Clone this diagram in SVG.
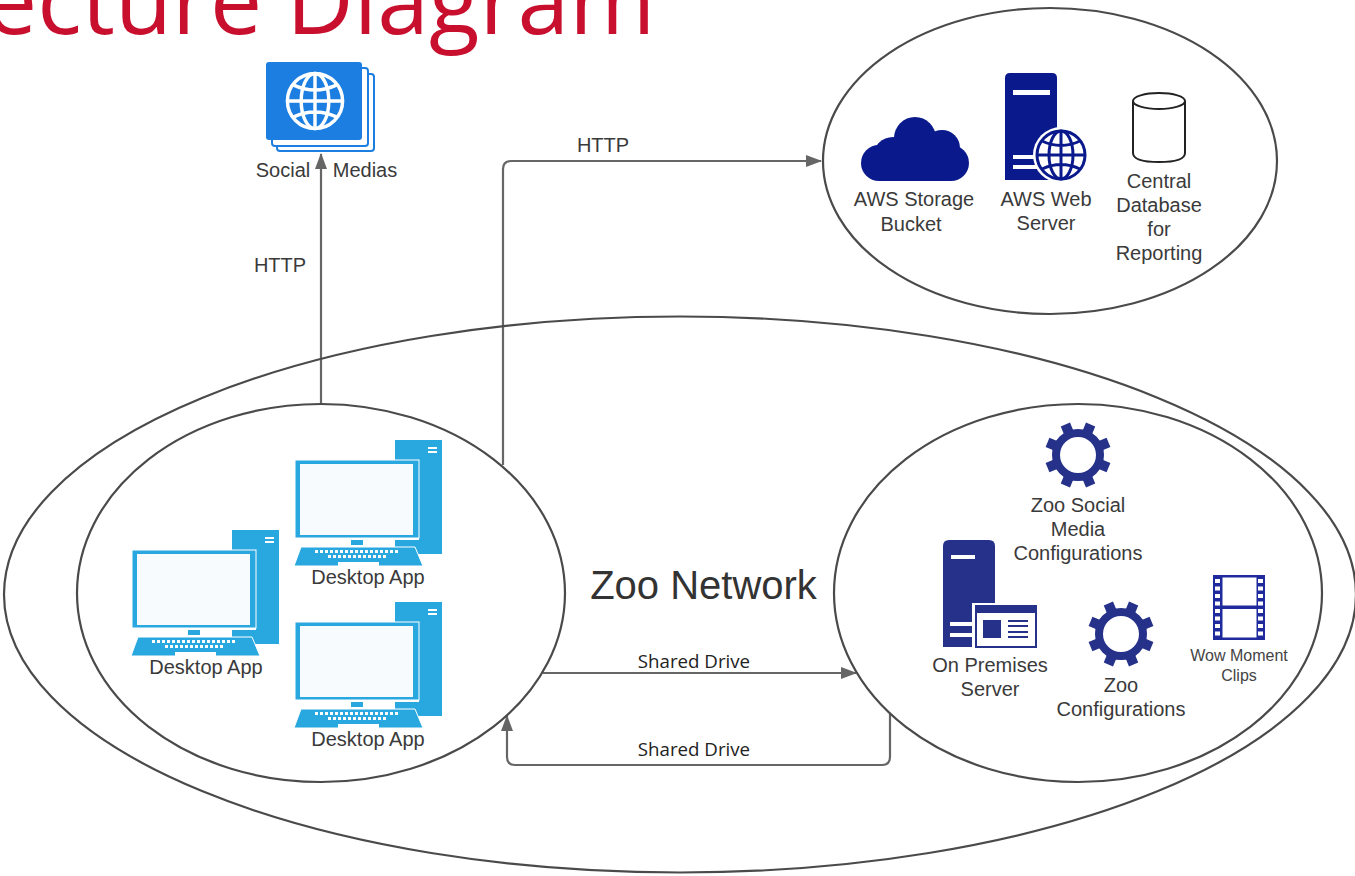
<svg xmlns="http://www.w3.org/2000/svg" width="1355" height="876" viewBox="0 0 1355 876">
<style>
.t{font-family:"Liberation Sans",Arial,sans-serif;font-size:20px;fill:#3a3a3a;text-anchor:middle}
.s{font-family:"Open Sans",sans-serif;font-size:18.700px;fill:#222;text-anchor:middle}
.e{fill:none;stroke:#4a4a4a;stroke-width:2.200}
.c{fill:none;stroke:#666;stroke-width:2.200;marker-end:url(#a)}
</style>
<defs>
<marker id="a" markerUnits="userSpaceOnUse" markerWidth="16" markerHeight="14" refX="15" refY="7" orient="auto"><path d="M0 1L16 7L0 13Z" fill="#666"/></marker>
<symbol id="pc" overflow="visible">
<path d="M100 0H147V114H100Z" fill="#29a8e0"/>
<path d="M133 8h9M133 12h9" stroke="#fff" stroke-width="2"/>
<rect x="0" y="20" width="124" height="80" fill="#fff"/>
<rect x="0" y="20" width="124" height="78" fill="#29a8e0" stroke="#fff" stroke-width="1"/>
<rect x="5" y="24" width="113" height="71" fill="#f8fbfd"/>
<path d="M56 100H68V105H56ZM100 100h24v5h-24Z" fill="#29a8e0"/>
<path d="M6 107H120L128 126H-1Z" fill="#29a8e0" stroke="#fff" stroke-width="1"/>
<path d="M20 111.500H103" stroke="#fff" stroke-width="3" stroke-dasharray="3 2"/>
<path d="M33 116.500H91" stroke="#fff" stroke-width="3" stroke-dasharray="3 2"/>
<rect x="43" y="122" width="41" height="4" fill="#fff"/>
</symbol>
<symbol id="gear" overflow="visible">
<g stroke="#26318a" stroke-width="10">
<path d="M0 -20L0 -33" transform="rotate(22.500)"/>
<path d="M0 -20L0 -33" transform="rotate(67.500)"/>
<path d="M0 -20L0 -33" transform="rotate(112.500)"/>
<path d="M0 -20L0 -33" transform="rotate(157.500)"/>
<path d="M0 -20L0 -33" transform="rotate(202.500)"/>
<path d="M0 -20L0 -33" transform="rotate(247.500)"/>
<path d="M0 -20L0 -33" transform="rotate(292.500)"/>
<path d="M0 -20L0 -33" transform="rotate(337.500)"/>
</g>
<circle r="22" fill="#fff" stroke="#26318a" stroke-width="8"/>
</symbol>
<symbol id="globe" overflow="visible">
<circle r="24" fill="none" stroke="currentColor" stroke-width="3"/>
<ellipse rx="12" ry="24" fill="none" stroke="currentColor" stroke-width="3"/>
<path d="M0 -24V24M-24 0H24M-19 -14Q0 -5 19 -14M-19 14Q0 5 19 14" fill="none" stroke="currentColor" stroke-width="3"/>
</symbol>
</defs>
<rect width="1355" height="876" fill="#fff"/>
<text id="title" x="-15" y="34" font-family="'Open Sans',sans-serif" font-size="93" fill="#c8102e">ecture Diagram</text>
<g id="connectors">
<path class="c" d="M321 404V154"/>
<path class="c" d="M503 465V169Q503 161 511 161H821"/>
<path class="c" d="M543 673H856"/>
<path class="c" d="M890 714V757Q890 765 882 765H515Q507 765 507 757V716"/>
<text class="t" x="280" y="272">HTTP</text>
<text class="t" x="603" y="152">HTTP</text>
<text class="s" x="694" y="668">Shared Drive</text>
<text class="s" x="694" y="756">Shared Drive</text>
</g>
<g id="zoo-network">
<ellipse class="e" cx="680" cy="594.500" rx="676" ry="278"/>
<text x="703.500" y="599" font-family="'Liberation Sans',Arial,sans-serif" font-size="40" fill="#333" text-anchor="middle">Zoo Network</text>
</g>
<g id="desktop-group">
<ellipse class="e" cx="321" cy="593" rx="244" ry="189"/>
<use href="#pc" x="295" y="440"/>
<text class="t" x="368" y="584">Desktop App</text>
<use href="#pc" x="132" y="530"/>
<text class="t" x="206" y="674">Desktop App</text>
<use href="#pc" x="295" y="602"/>
<text class="t" x="368" y="746">Desktop App</text>
</g>
<g id="premises-group">
<ellipse class="e" cx="1078" cy="593" rx="244" ry="189"/>
<use href="#gear" x="1078" y="455"/>
<text class="t" x="1078" y="512">Zoo Social</text>
<text class="t" x="1078" y="536">Media</text>
<text class="t" x="1078" y="560">Configurations</text>
<path d="M949 540H989Q995 540 995 546V647H943V546Q943 540 949 540Z" fill="#26318a"/>
<path d="M951 555h24v4h-24ZM950 622h24v4h-24ZM950 633h24v4h-24Z" fill="#fff"/>
<rect x="972" y="603" width="64" height="44" fill="#fff"/>
<rect x="976" y="606" width="60" height="41" fill="#fff" stroke="#26318a" stroke-width="2"/>
<rect x="976" y="606" width="60" height="7" fill="#26318a"/>
<rect x="983" y="620" width="18" height="18" fill="#26318a"/>
<path d="M1008 621h20M1008 626h20M1008 632h20M1008 637h20" stroke="#26318a" stroke-width="2"/>
<text class="t" x="990" y="672">On Premises</text>
<text class="t" x="990" y="696">Server</text>
<use href="#gear" x="1121" y="634"/>
<text class="t" x="1121" y="692">Zoo</text>
<text class="t" x="1121" y="716">Configurations</text>
<path d="M1213 575H1265V640H1213Z" fill="#1f2a9c"/>
<path d="M1222.500 577.500H1256.500V605.500H1222.500ZM1222.500 609H1256.500V637.500H1222.500Z" fill="#fff"/>
<path d="M1217.500 579V639M1260.500 579V639" stroke="#fff" stroke-width="5" stroke-dasharray="4 3.500"/>
<text x="1239" y="661" font-family="'Liberation Sans',Arial,sans-serif" font-size="16" fill="#444" text-anchor="middle">Wow Moment</text>
<text x="1239" y="681" font-family="'Liberation Sans',Arial,sans-serif" font-size="16" fill="#444" text-anchor="middle">Clips</text>
</g>
<g id="aws-group">
<ellipse class="e" cx="1050" cy="161" rx="227" ry="153"/>
<g fill="#0a1a8c">
<circle cx="915" cy="138" r="21"/>
<circle cx="942" cy="148" r="18"/>
<circle cx="879" cy="163" r="18"/>
<circle cx="951" cy="163" r="18"/>
<circle cx="893" cy="157" r="20"/>
<rect x="879" y="150" width="72" height="31"/>
</g>
<text class="t" x="914" y="206">AWS Storage</text>
<text class="t" x="911" y="231">Bucket</text>
<path d="M1010 73H1052Q1057 73 1057 78V180H1005V78Q1005 73 1010 73Z" fill="#0a1a8c"/>
<path d="M1013 90h37v5h-37ZM1013 155h24v4h-24ZM1013 165h24v4h-24Z" fill="#fff"/>
<circle cx="1061" cy="155" r="28" fill="#fff"/>
<use href="#globe" x="1061" y="155" color="#0a1a8c"/>
<text class="t" x="1046" y="206">AWS Web</text>
<text class="t" x="1046" y="230">Server</text>
<path d="M1133 101V153Q1133 162 1159 162Q1185 162 1185 153V101" fill="#fff" stroke="#222" stroke-width="2"/>
<ellipse cx="1159" cy="101" rx="26" ry="8" fill="#fff" stroke="#222" stroke-width="2"/>
<text class="t" x="1159" y="188">Central</text>
<text class="t" x="1159" y="212">Database</text>
<text class="t" x="1159" y="236">for</text>
<text class="t" x="1159" y="260">Reporting</text>
</g>
<g id="social-medias">
<rect x="277" y="74" width="97" height="77" rx="3" fill="#fff" stroke="#1c7ee0" stroke-width="2"/>
<rect x="272" y="68" width="96" height="78" rx="3" fill="#fff" stroke="#1c7ee0" stroke-width="2"/>
<rect x="266" y="62" width="96" height="78" rx="3" fill="#1c7ee0"/>
<use href="#globe" x="315" y="101" color="#fff" transform="translate(315 101) scale(1.150) translate(-315 -101)"/>
<text class="t" x="283" y="177">Social</text>
<text class="t" x="365" y="177">Medias</text>
</g>
</svg>
